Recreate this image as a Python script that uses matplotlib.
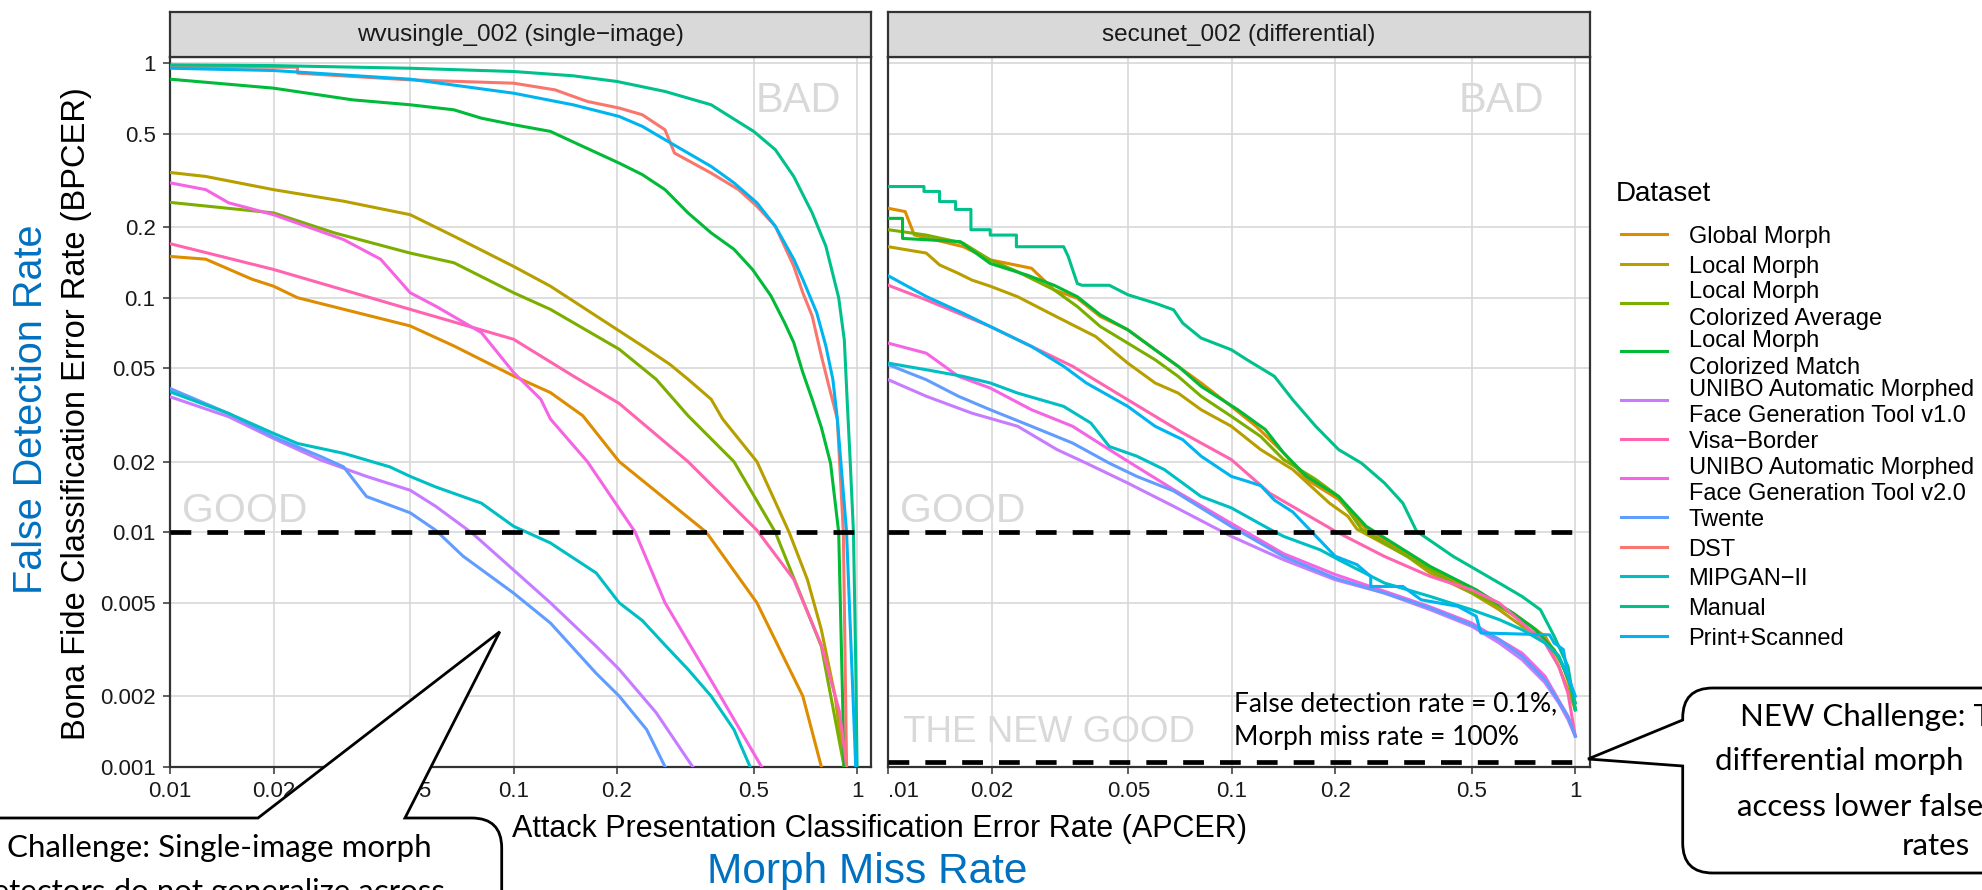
import matplotlib
matplotlib.use("Agg")
import matplotlib.pyplot as plt
import matplotlib.transforms as mtransforms
from matplotlib.path import Path
from matplotlib.patches import PathPatch
from matplotlib.lines import Line2D
from matplotlib.ticker import FixedLocator, FixedFormatter, NullLocator

plt.rcParams['font.family'] = ['Liberation Sans', 'DejaVu Sans']

# ---------------------------------------------------------------- data
datasets = ["Global Morph", "Local Morph", "Local Morph\nColorized Average",
            "Local Morph\nColorized Match",
            "UNIBO Automatic Morphed\nFace Generation Tool v1.0", "Visa\u2212Border",
            "UNIBO Automatic Morphed\nFace Generation Tool v2.0", "Twente", "DST",
            "MIPGAN\u2212II", "Manual", "Print+Scanned"]
colors = ["#DE8C00", "#B79F00", "#7CAE00", "#00BA38", "#C77CFF", "#FF64B0",
          "#F564E3", "#619CFF", "#F8766D", "#00BFC4", "#00C08B", "#00B4F0"]
panel_titles = ["wvusingle_002 (single\u2212image)", "secunet_002 (differential)"]
x_ticks = [0.01, 0.02, 0.05, 0.1, 0.2, 0.5, 1]
x_tick_labels_left = ["0.01", "0.02", "0.05", "0.1", "0.2", "0.5", "1"]
x_tick_labels_right = [".01", "0.02", "0.05", "0.1", "0.2", "0.5", "1"]
y_ticks = [0.001, 0.002, 0.005, 0.01, 0.02, 0.05, 0.1, 0.2, 0.5, 1]
y_tick_labels = ["0.001", "0.002", "0.005", "0.01", "0.02", "0.05", "0.1", "0.2", "0.5", "1"]
threshold_good = 0.01
threshold_new_good = 0.00105
line_x_range = [0.01, 1]

# single-image detector (left panel)
single_global_x = [0.01, 0.0127, 0.0173, 0.02, 0.0235, 0.05, 0.067, 0.1, 0.128, 0.159, 0.203, 0.364, 0.511, 0.695, 0.787]
single_global_y = [0.150, 0.146, 0.120, 0.112, 0.100, 0.0758, 0.0623, 0.0464, 0.0394, 0.0314, 0.020, 0.010, 0.005, 0.002, 0.001]
single_local_x = [0.01, 0.0127, 0.02, 0.032, 0.05, 0.067, 0.1, 0.128, 0.174, 0.237, 0.285, 0.322, 0.376, 0.406, 0.511, 0.634, 0.717, 0.787, 0.863, 0.917]
single_local_y = [0.342, 0.329, 0.289, 0.258, 0.226, 0.183, 0.136, 0.112, 0.0836, 0.0623, 0.052, 0.0449, 0.0369, 0.0304, 0.020, 0.010, 0.00627, 0.00384, 0.002, 0.001]
single_colavg_x = [0.01, 0.02, 0.0301, 0.05, 0.067, 0.1, 0.128, 0.203, 0.260, 0.322, 0.438, 0.578, 0.787, 0.917]
single_colavg_y = [0.255, 0.230, 0.189, 0.155, 0.141, 0.105, 0.0892, 0.0603, 0.0449, 0.0314, 0.020, 0.010, 0.00326, 0.001]
single_colmatch_x = [0.01, 0.02, 0.034, 0.05, 0.067, 0.0806, 0.1, 0.128, 0.159, 0.203, 0.237, 0.276, 0.322, 0.376, 0.438, 0.496, 0.561, 0.615, 0.654, 0.695, 0.740, 0.787, 0.837, 0.884, 0.917]
single_colmatch_y = [0.855, 0.783, 0.698, 0.665, 0.633, 0.583, 0.547, 0.512, 0.442, 0.375, 0.335, 0.289, 0.230, 0.189, 0.161, 0.132, 0.102, 0.0783, 0.0644, 0.048, 0.0369, 0.028, 0.0197, 0.010, 0.001]
single_unibo1_x = [0.01, 0.0148, 0.02, 0.0275, 0.0373, 0.05, 0.0593, 0.0758, 0.1, 0.128, 0.174, 0.203, 0.260, 0.332]
single_unibo1_y = [0.0378, 0.0311, 0.0251, 0.0203, 0.0173, 0.0151, 0.0129, 0.0099, 0.0069, 0.005, 0.00326, 0.0026, 0.0017, 0.001]
single_visa_x = [0.01, 0.02, 0.05, 0.1, 0.149, 0.203, 0.322, 0.511, 0.654, 0.787, 0.890, 0.932]
single_visa_y = [0.170, 0.132, 0.0892, 0.0665, 0.0464, 0.0354, 0.020, 0.0102, 0.0063, 0.0033, 0.0017, 0.001]
single_unibo2_x = [0.01, 0.0127, 0.0148, 0.02, 0.032, 0.041, 0.05, 0.0593, 0.0806, 0.1, 0.120, 0.128, 0.164, 0.226, 0.276, 0.400, 0.527]
single_unibo2_y = [0.309, 0.289, 0.254, 0.226, 0.177, 0.146, 0.105, 0.0921, 0.071, 0.048, 0.0369, 0.0304, 0.020, 0.010, 0.005, 0.002, 0.001]
single_twente_x = [0.01, 0.0148, 0.02, 0.0275, 0.032, 0.0373, 0.05, 0.0593, 0.0713, 0.1, 0.128, 0.174, 0.203, 0.244, 0.276]
single_twente_y = [0.041, 0.0321, 0.0255, 0.021, 0.019, 0.0142, 0.0121, 0.0102, 0.0079, 0.0055, 0.0041, 0.0025, 0.002, 0.00144, 0.001]
single_dst_x = [0.01, 0.0235, 0.0235, 0.05, 0.1, 0.132, 0.164, 0.203, 0.237, 0.276, 0.294, 0.376, 0.452, 0.511, 0.578, 0.654, 0.695, 0.740, 0.787, 0.837, 0.876, 0.912, 0.932]
single_dst_y = [0.962, 0.962, 0.907, 0.849, 0.822, 0.770, 0.687, 0.644, 0.603, 0.52, 0.414, 0.340, 0.289, 0.2455, 0.2018, 0.1364, 0.105, 0.0836, 0.0565, 0.0394, 0.0304, 0.010, 0.001]
single_mipgan_x = [0.01, 0.0148, 0.02, 0.0235, 0.032, 0.0436, 0.05, 0.0593, 0.0806, 0.1, 0.128, 0.174, 0.203, 0.237, 0.276, 0.322, 0.376, 0.438, 0.488]
single_mipgan_y = [0.0397, 0.0321, 0.0264, 0.0239, 0.0217, 0.019, 0.0173, 0.0156, 0.0133, 0.0106, 0.009, 0.0067, 0.005, 0.0042, 0.0033, 0.0026, 0.002, 0.00144, 0.001]
single_manual_x = [0.01, 0.02, 0.05, 0.1, 0.149, 0.2, 0.276, 0.376, 0.5, 0.578, 0.654, 0.74, 0.811, 0.884, 0.918, 0.937, 0.955, 0.976, 0.99, 1.0]
single_manual_y = [0.984, 0.977, 0.952, 0.922, 0.884, 0.836, 0.758, 0.665, 0.512, 0.428, 0.329, 0.23, 0.166, 0.10, 0.066, 0.035, 0.02, 0.01, 0.003, 0.001]
single_print_x = [0.01, 0.02, 0.05, 0.1, 0.149, 0.203, 0.237, 0.276, 0.322, 0.376, 0.438, 0.511, 0.578, 0.654, 0.695, 0.763, 0.811, 0.85, 0.876, 0.932, 0.991]
single_print_y = [0.952, 0.931, 0.855, 0.745, 0.665, 0.593, 0.538, 0.472, 0.414, 0.363, 0.309, 0.254, 0.2018, 0.146, 0.1197, 0.0863, 0.0623, 0.0449, 0.0304, 0.010, 0.001]

# differential detector (right panel)
diff_global_x = [0.01, 0.0112, 0.0119, 0.0137, 0.0165, 0.0198, 0.0261, 0.0304, 0.0355, 0.0414, 0.0498, 0.0598, 0.072, 0.0814, 0.0997, 0.1177, 0.1415, 0.165, 0.2047, 0.2461, 0.3559, 0.5148, 0.6583, 0.8163, 0.9232, 1.0]
diff_global_y = [0.2406, 0.233, 0.1853, 0.1764, 0.1652, 0.145, 0.1336, 0.108, 0.0995, 0.0832, 0.073, 0.060, 0.0493, 0.0433, 0.0344, 0.0283, 0.0218, 0.0168, 0.0138, 0.0103, 0.00738, 0.0055, 0.00452, 0.0036, 0.00268, 0.00187]
diff_local_x = [0.01, 0.0129, 0.0141, 0.016, 0.0175, 0.0198, 0.0238, 0.0295, 0.0344, 0.0401, 0.0498, 0.0598, 0.0698, 0.0814, 0.0997, 0.1214, 0.1505, 0.1925, 0.2177, 0.2315, 0.3246, 0.3785, 0.4992, 0.6005, 0.70, 0.8163, 0.895, 0.952, 1.0]
diff_local_y = [0.165, 0.155, 0.138, 0.127, 0.119, 0.112, 0.101, 0.0859, 0.0766, 0.0684, 0.0526, 0.0433, 0.0392, 0.0333, 0.0283, 0.0225, 0.0185, 0.0133, 0.0117, 0.0103, 0.00788, 0.00669, 0.0055, 0.00467, 0.00397, 0.00348, 0.00268, 0.00213, 0.00175]
diff_colavg_x = [0.01, 0.0129, 0.0165, 0.0198, 0.0238, 0.0304, 0.0355, 0.0414, 0.0498, 0.0598, 0.0698, 0.0814, 0.0997, 0.1214, 0.1415, 0.1755, 0.2047, 0.2386, 0.3246, 0.4415, 0.6005, 0.7445, 0.868, 0.952, 1.0]
diff_colavg_y = [0.195, 0.185, 0.171, 0.145, 0.129, 0.108, 0.0917, 0.0754, 0.064, 0.0544, 0.0462, 0.038, 0.0312, 0.0256, 0.0204, 0.0168, 0.0142, 0.0103, 0.00788, 0.00607, 0.00483, 0.00397, 0.00316, 0.00243, 0.00175]
diff_colmatch_x = [0.01, 0.011, 0.011, 0.0162, 0.0198, 0.0253, 0.0304, 0.0355, 0.0414, 0.0498, 0.0598, 0.0698, 0.0814, 0.1041, 0.1252, 0.1415, 0.165, 0.2047, 0.2461, 0.3785, 0.5148, 0.6583, 0.7677, 0.895, 0.9817, 1.0]
diff_colmatch_y = [0.218, 0.218, 0.179, 0.1735, 0.140, 0.125, 0.113, 0.101, 0.0846, 0.073, 0.060, 0.051, 0.0419, 0.0333, 0.0274, 0.0218, 0.0173, 0.0142, 0.0106, 0.00714, 0.00568, 0.00452, 0.00384, 0.00296, 0.00213, 0.00175]
diff_unibo1_x = [0.01, 0.0129, 0.0175, 0.0238, 0.031, 0.0377, 0.0498, 0.0677, 0.0997, 0.1415, 0.2, 0.2784, 0.3785, 0.4992, 0.6005, 0.70, 0.8163, 0.895, 0.952, 1.0]
diff_unibo1_y = [0.0447, 0.038, 0.0322, 0.0283, 0.0225, 0.0197, 0.0162, 0.0129, 0.0096, 0.00763, 0.00627, 0.0055, 0.00467, 0.00397, 0.00337, 0.00286, 0.00228, 0.00187, 0.00159, 0.00135]
diff_visa_x = [0.01, 0.0129, 0.0198, 0.0261, 0.0344, 0.0498, 0.072, 0.0997, 0.129, 0.2, 0.2784, 0.3785, 0.4992, 0.6005, 0.70, 0.8163, 0.895, 0.952, 1.0]
diff_visa_y = [0.113, 0.0979, 0.0754, 0.062, 0.051, 0.0367, 0.0265, 0.0204, 0.01466, 0.0101, 0.00788, 0.00648, 0.00568, 0.00499, 0.0041, 0.00337, 0.00268, 0.00206, 0.00135]
diff_unibo2_x = [0.01, 0.0129, 0.016, 0.0198, 0.0261, 0.0344, 0.044, 0.0529, 0.0677, 0.0997, 0.1415, 0.2, 0.2784, 0.3785, 0.4992, 0.70, 0.8163, 0.952, 1.0]
diff_unibo2_y = [0.064, 0.058, 0.0462, 0.0412, 0.0333, 0.0283, 0.0225, 0.019, 0.0152, 0.0109, 0.0081, 0.0066, 0.0056, 0.0048, 0.0041, 0.00305, 0.00243, 0.00164, 0.00135]
diff_twente_x = [0.01, 0.0129, 0.016, 0.0198, 0.0261, 0.0344, 0.044, 0.0529, 0.0677, 0.0997, 0.1415, 0.2, 0.2784, 0.3785, 0.4992, 0.6005, 0.70, 0.8163, 0.952, 1.0]
diff_twente_y = [0.0518, 0.0447, 0.038, 0.0333, 0.0283, 0.024, 0.0197, 0.0173, 0.0150, 0.01057, 0.00788, 0.00637, 0.0055, 0.00475, 0.00403, 0.00348, 0.00296, 0.00235, 0.00164, 0.00135]
diff_mipgan_x = [0.01, 0.0129, 0.0165, 0.0198, 0.0238, 0.0324, 0.0389, 0.044, 0.0529, 0.0636, 0.0814, 0.0997, 0.129, 0.1415, 0.181, 0.2047, 0.2784, 0.3785, 0.4992, 0.6005, 0.70, 0.8163, 0.895, 0.952, 1.0]
diff_mipgan_y = [0.0526, 0.0493, 0.0462, 0.0433, 0.0392, 0.0344, 0.0292, 0.0232, 0.0211, 0.0185, 0.0142, 0.0127, 0.0103, 0.0096, 0.00841, 0.00763, 0.00607, 0.00532, 0.00467, 0.00424, 0.00384, 0.00337, 0.00296, 0.00243, 0.00187]
diff_manual_x = [0.01, 0.0127, 0.0127, 0.0141, 0.0141, 0.0157, 0.0157, 0.0174, 0.0174, 0.0198, 0.0198, 0.0236, 0.0236, 0.0324, 0.0334, 0.0355, 0.0366, 0.044, 0.0498, 0.0598, 0.0677, 0.072, 0.0814, 0.0997, 0.1107, 0.1331, 0.1505, 0.1755, 0.2047, 0.2386, 0.2784, 0.3148, 0.3451, 0.4415, 0.5148, 0.6005, 0.70, 0.7917, 0.868, 0.952, 1.0]
diff_manual_y = [0.298, 0.298, 0.284, 0.284, 0.257, 0.257, 0.238, 0.238, 0.195, 0.195, 0.185, 0.185, 0.165, 0.165, 0.150, 0.115, 0.113, 0.113, 0.103, 0.0948, 0.0888, 0.0779, 0.0673, 0.060, 0.0544, 0.0462, 0.0367, 0.0283, 0.0225, 0.0197, 0.0162, 0.0133, 0.0101, 0.00788, 0.00692, 0.00607, 0.00532, 0.00467, 0.0036, 0.00268, 0.00175]
diff_print_x = [0.01, 0.0129, 0.0165, 0.0198, 0.0261, 0.0324, 0.0377, 0.0498, 0.0598, 0.072, 0.0814, 0.0997, 0.1107, 0.1214, 0.1331, 0.1505, 0.1702, 0.2, 0.2315, 0.2538, 0.2538, 0.3148, 0.3559, 0.455, 0.5148, 0.5309, 0.8416, 0.868, 0.9232, 0.952, 1.0]
diff_print_y = [0.124, 0.1012, 0.0859, 0.0754, 0.062, 0.051, 0.0433, 0.0344, 0.0283, 0.0248, 0.0211, 0.0173, 0.0165, 0.0158, 0.0137, 0.0122, 0.0101, 0.0079, 0.00727, 0.00648, 0.00587, 0.00587, 0.00515, 0.00483, 0.00438, 0.00372, 0.00365, 0.00337, 0.00316, 0.00243, 0.0020]

series_single = [(single_global_x, single_global_y), (single_local_x, single_local_y),
                 (single_colavg_x, single_colavg_y), (single_colmatch_x, single_colmatch_y),
                 (single_unibo1_x, single_unibo1_y), (single_visa_x, single_visa_y),
                 (single_unibo2_x, single_unibo2_y), (single_twente_x, single_twente_y),
                 (single_dst_x, single_dst_y), (single_mipgan_x, single_mipgan_y),
                 (single_manual_x, single_manual_y), (single_print_x, single_print_y)]
series_diff = [(diff_global_x, diff_global_y), (diff_local_x, diff_local_y),
               (diff_colavg_x, diff_colavg_y), (diff_colmatch_x, diff_colmatch_y),
               (diff_unibo1_x, diff_unibo1_y), (diff_visa_x, diff_visa_y),
               (diff_unibo2_x, diff_unibo2_y), (diff_twente_x, diff_twente_y),
               None, (diff_mipgan_x, diff_mipgan_y),
               (diff_manual_x, diff_manual_y), (diff_print_x, diff_print_y)]

# ---------------------------------------------------------------- layout
W, H = 1982.0, 890.0
fig = plt.figure(figsize=(W / 100, H / 100), dpi=100)
PX = mtransforms.Affine2D().scale(1 / W, -1 / H).translate(0, 1) + fig.transFigure


def rect(x0, y0, x1, y1):
    return [x0 / W, 1 - y1 / H, (x1 - x0) / W, (y1 - y0) / H]


PANEL_TOP, PANEL_BOTTOM, STRIP_TOP = 57.3, 766.7, 11.7
panels = [(170.1, 871.3), (888.3, 1589.5)]
DARK = '#333333'
GRID = '#D5D5D5'
WATERMARK = '#D9D9D9'
BLUE = '#0070C0'
TXT = '#1A1A1A'
CALLOUT_FONT = ['Lato', 'DejaVu Sans']

axes = []
for i, (x0, x1) in enumerate(panels):
    ax = fig.add_axes(rect(x0, PANEL_TOP, x1, PANEL_BOTTOM))
    ax.set_xscale('log')
    ax.set_yscale('log')
    ax.set_xlim(0.01, 1.1)
    ax.set_ylim(0.001, 1.06)
    ax.xaxis.set_major_locator(FixedLocator(x_ticks))
    ax.xaxis.set_minor_locator(NullLocator())
    ax.yaxis.set_major_locator(FixedLocator(y_ticks))
    ax.yaxis.set_minor_locator(NullLocator())
    ax.xaxis.set_major_formatter(FixedFormatter(x_tick_labels_left if i == 0 else x_tick_labels_right))
    ax.yaxis.set_major_formatter(FixedFormatter(y_tick_labels))
    ax.set_axisbelow(True)
    ax.grid(True, which='major', color=GRID, linewidth=1.1)
    for sp in ax.spines.values():
        sp.set_color(DARK)
        sp.set_linewidth(1.6)
    ax.tick_params(axis='x', which='major', direction='out', length=5, width=1.1,
                   color=DARK, labelsize=16, labelcolor=TXT, pad=5)
    ax.tick_params(axis='y', which='major', direction='out', length=5, width=1.1,
                   color=DARK, labelsize=16, labelcolor=TXT, pad=5.5)
    if i == 1:
        ax.tick_params(axis='y', length=0, labelleft=False)
    axes.append(ax)

    sax = fig.add_axes(rect(x0, STRIP_TOP, x1, PANEL_TOP))
    sax.set_facecolor('#D9D9D9')
    sax.set_xticks([])
    sax.set_yticks([])
    for sp in sax.spines.values():
        sp.set_color(DARK)
        sp.set_linewidth(1.6)
    sax.text(0.5, 0.5, panel_titles[i], ha='center', va='center', fontsize=17.5,
             color=TXT, transform=sax.transAxes)

axes[1].get_xticklabels()[0].set_horizontalalignment('left')

# curves
for ax, series in zip(axes, [series_single, series_diff]):
    for s, c in zip(series, colors):
        if s is None:
            continue
        ax.plot(s[0], s[1], color=c, lw=2.2, solid_joinstyle='round', zorder=3)

# thresholds
for ax in axes:
    ax.plot(line_x_range, [threshold_good, threshold_good], color='black', lw=3.4,
            dashes=(4.4, 3.4), dash_capstyle='butt', zorder=5)
axes[1].plot(line_x_range, [threshold_new_good, threshold_new_good], color='black', lw=3.4,
             dashes=(4.4, 3.4), dash_capstyle='butt', zorder=5)

# watermarks
axes[0].text(0.673, 0.692, 'BAD', ha='center', va='center', fontsize=30, color=WATERMARK, zorder=2)
axes[1].text(0.611, 0.692, 'BAD', ha='center', va='center', fontsize=30, color=WATERMARK, zorder=2)
for ax in axes:
    ax.text(0.0108, 0.0111, 'GOOD', ha='left', va='baseline', fontsize=29.5, color=WATERMARK, zorder=2)
axes[1].text(0.0110, 0.00128, 'THE NEW GOOD', ha='left', va='baseline', fontsize=26.5,
             color=WATERMARK, zorder=2)

# annotation inside right panel
fig.text(1233.5, 711.7, 'False detection rate = 0.1%,', ha='left', va='baseline', fontsize=19,
         family=CALLOUT_FONT, color='black', transform=PX, zorder=6)
fig.text(1233.5, 745.0, 'Morph miss rate = 100%', ha='left', va='baseline', fontsize=19,
         family=CALLOUT_FONT, color='black', transform=PX, zorder=6)

# axis titles
fig.text(76.7, 414, 'Bona Fide Classification Error Rate (BPCER)', rotation=90, ha='center',
         va='center', fontsize=23.5, color='black', transform=PX)
fig.text(30.8, 409.5, 'False Detection Rate', rotation=90, ha='center', va='center',
         fontsize=28.5, color=BLUE, transform=PX)
fig.text(879.8, 836.7, 'Attack Presentation Classification Error Rate (APCER)', ha='center',
         va='baseline', fontsize=22, color='black', transform=PX)
fig.text(867.5, 883.3, 'Morph Miss Rate', ha='center', va='baseline', fontsize=30.5,
         color=BLUE, transform=PX)

# legend (drawn by hand to mimic ggplot layout)
fig.text(1616, 201, 'Dataset', ha='left', va='baseline', fontsize=20, color='black', transform=PX)
yc = None
prev_h = None
for lab, c in zip(datasets, colors):
    parts = lab.split('\n')
    h = 29.6 if len(parts) == 1 else 48.6
    yc = 234.0 if yc is None else yc + prev_h / 2 + h / 2
    prev_h = h
    fig.add_artist(Line2D([1620.8, 1667.0], [yc, yc], transform=PX, color=c, lw=2.2))
    if len(parts) == 1:
        fig.text(1688.6, yc + 9, lab, ha='left', va='baseline', fontsize=17, color='black',
                 transform=PX)
    else:
        fig.text(1688.6, yc - 13.35 + 9, parts[0], ha='left', va='baseline', fontsize=17,
                 color='black', transform=PX)
        fig.text(1688.6, yc + 13.35 + 9, parts[1], ha='left', va='baseline', fontsize=17,
                 color='black', transform=PX)

# callouts
M, L, C3, CL = Path.MOVETO, Path.LINETO, Path.CURVE3, Path.CLOSEPOLY
left_verts = [(-20, 818), (258, 818), (499.8, 631.7), (405, 818), (471.7, 818),
              (501.7, 818), (501.7, 848), (501.7, 920), (-20, 920), (-20, 818)]
left_codes = [M, L, L, L, L, C3, C3, L, L, CL]
right_verts = [(2020, 688), (1712.7, 688), (1682.7, 688), (1682.7, 718), (1682.7, 720),
               (1588, 759), (1682.7, 766), (1682.7, 843), (1682.7, 873), (1712.7, 873),
               (2020, 873), (2020, 688)]
right_codes = [M, L, C3, C3, L, L, L, L, C3, C3, L, CL]
for v, cds in [(left_verts, left_codes), (right_verts, right_codes)]:
    patch = PathPatch(Path(v, cds), transform=PX, facecolor='white', edgecolor='black',
                      lw=2.0, joinstyle='miter', zorder=10, clip_on=False)
    fig.add_artist(patch)

callout_kw = dict(va='baseline', fontsize=22.5, family=CALLOUT_FONT, color='black',
                  transform=PX, zorder=11)
fig.text(432, 856.7, 'Challenge: Single-image morph', ha='right', **callout_kw)
fig.text(445, 901, 'detectors do not generalize across', ha='right', **callout_kw)
fig.text(1740, 726, 'NEW Challenge: T', ha='left', **callout_kw)
fig.text(1715, 770, 'differential morph', ha='left', **callout_kw)
fig.text(1737, 816, 'access lower false', ha='left', **callout_kw)
fig.text(1936, 855, 'rates', ha='center', **callout_kw)

fig.savefig('out.png', dpi=100)
